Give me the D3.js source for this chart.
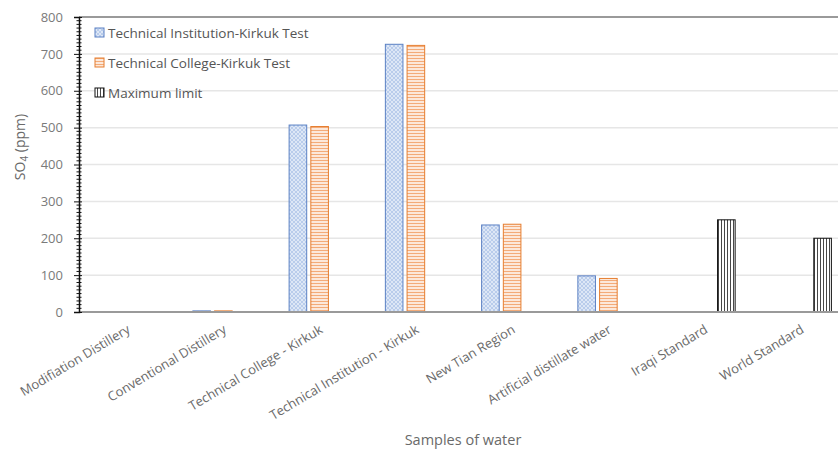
<!DOCTYPE html>
<html><head><meta charset="utf-8">
<script src="https://cdn.jsdelivr.net/npm/d3@7"></script>
<style>
body{margin:0;background:#fff;}
svg{display:block;font-family:"Open Sans",sans-serif;}
</style></head>
<body><svg id="chart" width="838" height="455"></svg>
<script>
const categories = ["Modifiation Distillery","Conventional Distillery","Technical College - Kirkuk","Technical Institution - Kirkuk","New Tian Region","Artificial distillate water","Iraqi Standard","World Standard"];
const seriesNames = ["Technical Institution-Kirkuk Test","Technical College-Kirkuk Test","Maximum limit"];
const instTest = [0, 3, 507, 726, 236, 98, null, null];
const collegeTest = [0, 3, 503, 723, 238, 91, null, null];
const maxLimit = [null, null, null, null, null, null, 250, 200];
const yTicks = [0,100,200,300,400,500,600,700,800];

(function(){
const svg = d3.select("#chart");
const plotLeft = 79, plotTop = 17, plotBottom = 312, plotRightEnd = 849;
const x0 = d3.scaleBand().domain(categories).range([plotLeft, plotRightEnd]).paddingInner(0.366).paddingOuter(0.183);
const x1 = d3.scaleBand().domain(seriesNames).range([0, x0.bandwidth()]).paddingInner(0.19);
const y = d3.scaleLinear().domain([0, 800]).range([plotBottom, plotTop]);

// patterns
const defs = svg.append("defs");
const pB = defs.append("pattern").attr("id","pBlue").attr("patternUnits","userSpaceOnUse").attr("width",4).attr("height",4);
pB.append("rect").attr("width",4).attr("height",4).attr("fill","#dde7f6");
pB.append("path").attr("d","M0,0L4,4M4,0L0,4").attr("stroke","#a9c0e6").attr("stroke-width",0.7);
const pO = defs.append("pattern").attr("id","pOrange").attr("patternUnits","userSpaceOnUse").attr("width",4).attr("height",3);
pO.append("rect").attr("width",4).attr("height",3).attr("fill","#fce8da");
pO.append("path").attr("d","M0,1.5H4").attr("stroke","#f2a46e").attr("stroke-width",0.9);
const pK = defs.append("pattern").attr("id","pBlack").attr("patternUnits","userSpaceOnUse").attr("width",3).attr("height",4);
pK.append("rect").attr("width",3).attr("height",4).attr("fill","#ffffff");
pK.append("path").attr("d","M1.5,0V4").attr("stroke","#333").attr("stroke-width",0.9);

const styles = [
  {fill:"url(#pBlue)", stroke:"#5b80c4"},
  {fill:"url(#pOrange)", stroke:"#e67e30"},
  {fill:"url(#pBlack)", stroke:"#111"}
];

// gridlines
svg.append("g").selectAll("line").data(yTicks.filter(d=>d>0 && d<800)).join("line")
  .attr("x1", plotLeft).attr("x2", 838).attr("y1", d=>y(d)).attr("y2", d=>y(d))
  .attr("stroke","#e6e6e6").attr("stroke-width",1.5);
// top border
svg.append("line").attr("x1",plotLeft).attr("x2",838).attr("y1",y(800)).attr("y2",y(800))
  .attr("stroke","#9a9a9a").attr("stroke-width",2);

// bars
const allSeries = [instTest, collegeTest, maxLimit];
allSeries.forEach((vals, si) => {
  const data = categories.map((c,i)=>({c, v: vals[i]})).filter(d=>d.v!==null && d.v>0);
  svg.append("g").selectAll("rect").data(data).join("rect")
    .attr("x", d=>x0(d.c)+x1(seriesNames[si]))
    .attr("y", d=>y(d.v))
    .attr("width", x1.bandwidth())
    .attr("height", d=>y(0)-y(d.v))
    .attr("fill", styles[si].fill)
    .attr("stroke", styles[si].stroke)
    .attr("stroke-width",1);
});

// x axis line
svg.append("line").attr("x1",plotLeft).attr("x2",838).attr("y1",y(0)).attr("y2",y(0))
  .attr("stroke","#9a9a9a").attr("stroke-width",2);

// y axis
const yAxis = d3.axisLeft(y).tickValues(yTicks).tickSize(5).tickPadding(11);
const ga = svg.append("g").attr("transform",`translate(${plotLeft},0)`).call(yAxis);
ga.select(".domain").attr("stroke","#111").attr("stroke-width",1.5);
ga.selectAll(".tick line").attr("stroke","#111").attr("x2",3).attr("x1",-5);
ga.selectAll(".tick text").attr("fill","#7a7a7a").attr("font-size",13).attr("font-family","'Open Sans',sans-serif");
// minor ticks
const minor = d3.range(0, 801, 10).filter(d=>d%100!==0);
svg.append("g").selectAll("line").data(minor).join("line")
  .attr("x1", plotLeft-2.5).attr("x2", plotLeft+2.5).attr("y1", d=>y(d)).attr("y2", d=>y(d))
  .attr("stroke","#111").attr("stroke-width",1);

// x labels
svg.append("g").selectAll("text").data(categories).join("text")
  .attr("transform", d=>`translate(${x0(d)+x0.bandwidth()/2+4},332) rotate(-31)`)
  .attr("text-anchor","end").attr("font-size",13).attr("fill","#6a6a6a")
  .text(d=>d);

// axis titles
svg.append("text").attr("x",463).attr("y",445).attr("text-anchor","middle")
  .attr("font-size",14.5).attr("fill","#6a6a6a").text("Samples of water");
const yt = svg.append("text").attr("transform","translate(25,147) rotate(-90)")
  .attr("text-anchor","middle").attr("font-size",14).attr("fill","#6a6a6a");
yt.append("tspan").text("SO");
yt.append("tspan").attr("font-size",10).attr("dy",3).text("4");
yt.append("tspan").attr("dy",-3).text(" (ppm)");

// legend
const lg = svg.append("g");
seriesNames.forEach((s,i)=>{
  const gy = 33 + i*30;
  lg.append("rect").attr("x",95).attr("y",gy-5).attr("width",9).attr("height",9)
    .attr("fill",styles[i].fill).attr("stroke",styles[i].stroke).attr("stroke-width",1);
  lg.append("text").attr("x",108).attr("y",gy+5).attr("font-size",13.5).attr("fill","#555").text(s);
});
})();
</script></body></html>
